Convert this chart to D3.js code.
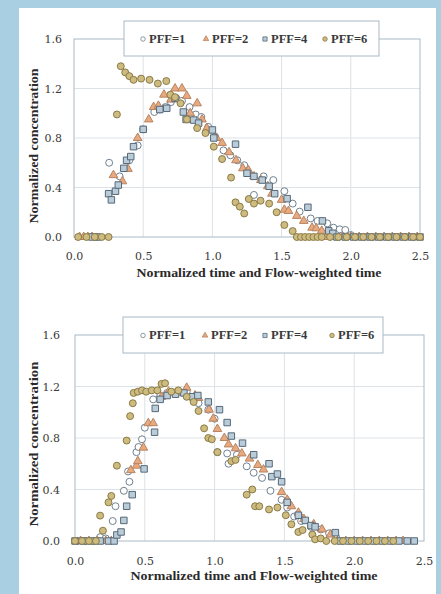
<!DOCTYPE html>
<html>
<head>
<meta charset="utf-8">
<script src="https://cdn.jsdelivr.net/npm/d3@7"></script>
<style>
  html, body { margin: 0; padding: 0; background: #a8cfe2; }
  svg { display: block; }
</style>
</head>
<body>
<svg id="chart" width="441" height="594"></svg>
<script>
const seriesNames = ['PFF=1', 'PFF=2', 'PFF=4', 'PFF=6'];
const xTicks = [0, 0.5, 1.0, 1.5, 2.0, 2.5];
const yTicks = [0, 0.4, 0.8, 1.2, 1.6];

// top panel: [time, concentration]
const topPFF1 = [[0.16,0],[0.254,0.60],[0.33,0.49],[0.40,0.62],[0.46,0.74],[0.50,0.87],[0.58,1.01],
  [0.62,1.03],[0.66,1.05],[0.70,1.09],[0.74,1.12],[0.78,1.10],[0.835,1.05],[0.88,0.99],[0.92,0.97],
  [0.97,0.89],[1.02,0.81],[1.08,0.70],[1.13,0.66],[1.18,0.62],[1.23,0.58],[1.30,0.34],[1.37,0.49],
  [1.44,0.46],[1.52,0.37],[1.58,0.27],[1.63,0.205],[1.71,0.15],[1.76,0.13],[1.83,0.11],[1.875,0.075],
  [1.92,0.062],[1.96,0.057],[2.0,0.016],[2.04,0],[2.1,0],[2.16,0],[2.22,0],[2.28,0],[2.34,0],[2.4,0],[2.46,0]];
const topPFF2 = [[0.04,0],[0.07,0],[0.10,0],[0.13,0],[0.285,0.50],[0.35,0.45],[0.39,0.55],[0.46,0.80],
  [0.54,0.95],[0.575,1.05],[0.61,1.06],[0.65,1.15],[0.70,1.11],[0.73,1.20],[0.78,1.20],[0.815,1.14],
  [0.84,1.0],[0.89,1.08],[0.925,0.95],[0.96,0.88],[1.03,0.80],[1.07,0.76],[1.12,0.685],[1.17,0.62],
  [1.22,0.555],[1.26,0.54],[1.30,0.49],[1.35,0.46],[1.40,0.41],[1.43,0.35],[1.50,0.30],[1.52,0.22],
  [1.55,0.21],[1.61,0.17],[1.66,0.13],[1.72,0.075],[1.75,0.07],[1.79,0.05],[1.82,0],[1.88,0],[1.94,0],
  [2.0,0],[2.06,0],[2.12,0],[2.18,0],[2.24,0],[2.3,0],[2.36,0],[2.42,0],[2.48,0]];
const topPFF4 = [[0.13,0],[0.17,0],[0.25,0.35],[0.27,0.30],[0.30,0.37],[0.32,0.42],[0.36,0.555],
  [0.38,0.62],[0.41,0.65],[0.43,0.73],[0.50,0.87],[0.62,1.03],[0.67,1.04],[0.73,1.12],[0.79,1.01],
  [0.81,0.95],[0.865,0.945],[0.90,0.92],[1.0,0.865],[1.01,0.80],[1.167,0.75],[1.25,0.515],[1.30,0.49],
  [1.36,0.46],[1.41,0.41],[1.45,0.35],[1.54,0.31],[1.69,0.24],[1.795,0.13],[1.84,0.05],[1.87,0.03],
  [1.90,0],[1.96,0],[2.02,0],[2.08,0],[2.14,0],[2.2,0],[2.26,0],[2.32,0],[2.38,0],[2.44,0],[2.5,0]];
const topPFF6 = [[0.03,0],[0.09,0],[0.15,0],[0.2,0],[0.25,0],[0.31,0.99],[0.338,1.38],[0.37,1.33],
  [0.40,1.30],[0.43,1.27],[0.485,1.28],[0.546,1.27],[0.606,1.24],[0.667,1.26],[0.696,1.15],[0.73,1.13],
  [0.77,1.08],[0.816,0.95],[0.89,0.88],[0.95,0.84],[1.01,0.73],[1.07,0.63],[1.135,0.48],[1.167,0.28],
  [1.198,0.245],[1.23,0.19],[1.263,0.307],[1.30,0.27],[1.348,0.293],[1.41,0.27],[1.464,0.20],
  [1.52,0.097],[1.58,0.048],[1.61,0],[1.64,0],[1.67,0],[1.70,0],[1.73,0],[1.76,0],[1.79,0],[1.85,0],
  [1.91,0],[1.97,0],[2.03,0],[2.09,0],[2.15,0],[2.21,0],[2.27,0],[2.33,0],[2.39,0],[2.45,0],[2.5,0]];

// bottom panel: [flow-weighted time, concentration]
const botPFF1 = [[0.02,0],[0.08,0],[0.14,0],[0.18,0.03],[0.22,0.02],[0.27,0.155],[0.29,0.27],
  [0.35,0.39],[0.39,0.46],[0.38,0.54],[0.44,0.69],[0.455,0.73],[0.48,0.79],[0.50,0.88],[0.56,1.10],
  [0.61,1.13],[0.66,1.15],[0.72,1.15],[0.80,1.16],[0.885,1.07],[0.955,1.02],[1.0,0.95],[1.02,0.69],
  [1.10,0.60],[1.09,0.68],[1.16,0.67],[1.23,0.58],[1.28,0.53],[1.34,0.49],[1.40,0.39],[1.48,0.32],
  [1.52,0.26],[1.57,0.19],[1.62,0.155],[1.69,0.11],[1.76,0.09],[1.82,0.06],[1.87,0.03],[1.92,0],
  [1.98,0],[2.04,0],[2.1,0],[2.16,0],[2.22,0],[2.28,0]];
const botPFF2 = [[0.04,0],[0.1,0],[0.16,0],[0.22,0],[0.26,0],[0.40,0.55],[0.44,0.585],[0.45,0.62],
  [0.49,0.725],[0.525,0.915],[0.56,0.915],[0.62,1.12],[0.67,1.16],[0.72,1.15],[0.80,1.19],[0.86,1.13],
  [0.885,1.11],[0.96,1.02],[0.99,0.95],[1.02,0.87],[1.07,0.80],[1.10,0.75],[1.15,0.72],[1.195,0.68],
  [1.25,0.64],[1.31,0.59],[1.35,0.555],[1.48,0.38],[1.52,0.32],[1.55,0.27],[1.60,0.22],[1.64,0.17],
  [1.71,0.13],[1.77,0.09],[1.83,0.05],[1.88,0],[1.94,0],[2.0,0],[2.06,0],[2.12,0],[2.18,0],[2.24,0],
  [2.3,0],[2.35,0]];
const botPFF4 = [[0.0,0],[0.06,0],[0.12,0],[0.18,0],[0.24,0],[0.28,0],[0.30,0.047],[0.33,0.07],
  [0.35,0.16],[0.37,0.27],[0.41,0.36],[0.495,0.56],[0.57,0.845],[0.575,1.03],[0.61,1.10],[0.66,1.13],
  [0.72,1.14],[0.78,1.15],[0.84,1.12],[0.88,1.13],[0.955,1.08],[1.035,1.02],[1.09,0.92],[1.12,0.815],
  [1.20,0.76],[1.28,0.67],[1.39,0.60],[1.41,0.50],[1.45,0.52],[1.48,0.46],[1.52,0.30],[1.60,0.20],
  [1.65,0.16],[1.69,0.12],[1.72,0.11],[1.865,0.065],[1.90,0],[1.96,0],[2.02,0],[2.08,0],[2.14,0],
  [2.2,0],[2.26,0],[2.32,0],[2.38,0],[2.43,0]];
const botPFF6 = [[0.0,0],[0.05,0],[0.1,0],[0.15,0],[0.18,0.197],[0.20,0.08],[0.24,0.30],[0.26,0.35],
  [0.30,0.585],[0.37,0.78],[0.395,0.97],[0.414,1.07],[0.42,1.15],[0.45,1.16],[0.48,1.17],[0.51,1.16],
  [0.55,1.17],[0.59,1.17],[0.62,1.22],[0.645,1.225],[0.69,1.16],[0.74,1.17],[0.80,1.12],[0.85,1.08],
  [0.885,1.01],[0.925,0.875],[0.955,0.80],[0.98,0.79],[1.02,0.69],[1.12,0.62],[1.15,0.63],[1.23,0.36],
  [1.27,0.40],[1.29,0.27],[1.32,0.27],[1.39,0.245],[1.45,0.26],[1.51,0.20],[1.55,0.13],[1.60,0.07],
  [1.63,0.085],[1.70,0.05],[1.72,0.013],[1.76,0.02],[1.80,0],[1.86,0],[1.92,0],[1.98,0],[2.04,0],
  [2.1,0],[2.16,0],[2.22,0],[2.28,0]];

const MarkerStyles = [
  { type: d3.symbolCircle, size: 38, fill: '#ffffff', stroke: '#6f8191' },
  { type: d3.symbolTriangle, size: 32, fill: '#e8a97e', stroke: '#b78462' },
  { type: d3.symbolSquare, size: 42, fill: '#b9ccd8', stroke: '#56697a' },
  { type: d3.symbolCircle, size: 38, fill: '#cdbb80', stroke: '#8a7a45' }
];
const GridColor = '#dde2e6';
const BorderColor = '#a9bac6';
const TextColor = '#3a3a3a';
const TickFont = '"DejaVu Serif", "Liberation Serif", serif';
const TitleFont = '"Liberation Serif", "DejaVu Serif", serif';

const panels = [
  {
    series: [topPFF1, topPFF2, topPFF4, topPFF6],
    left: 74, right: 420, top: 39, bottom: 237,
    legend: { x: 124, y: 21, w: 255, h: 35, marks: [19, 82, 141, 201] },
    yLabelX: 62, xLabelY: 258,
    xTitle: { x: 259, y: 272, len: 245 },
    yTitle: { x: 33, y: 146, len: 155 }
  },
  {
    series: [botPFF1, botPFF2, botPFF4, botPFF6],
    left: 75, right: 424, top: 335, bottom: 541,
    legend: { x: 123, y: 317, w: 260, h: 36, marks: [20, 82, 142, 209] },
    yLabelX: 60, xLabelY: 563,
    xTitle: { x: 254, y: 575, len: 247 },
    yTitle: { x: 33, y: 444, len: 165 }
  }
];

const svg = d3.select('#chart');

svg.append('rect')
  .attr('x', 0).attr('y', 0)
  .attr('width', 441).attr('height', 594)
  .attr('fill', '#a8cfe2');
svg.append('rect')
  .attr('x', 19).attr('y', 8)
  .attr('width', 417).attr('height', 590)
  .attr('fill', '#ffffff');

const drawPanel = panel => {
  const x = d3.scaleLinear().domain([0, 2.5]).range([panel.left, panel.right]);
  const y = d3.scaleLinear().domain([0, 1.6]).range([panel.bottom, panel.top]);
  const g = svg.append('g');

  // gridlines
  g.append('g')
    .selectAll('line')
    .data(xTicks.slice(1, -1))
    .enter().append('line')
      .attr('x1', d => x(d)).attr('x2', d => x(d))
      .attr('y1', panel.top).attr('y2', panel.bottom)
      .attr('stroke', GridColor);
  g.append('g')
    .selectAll('line')
    .data(yTicks.slice(1, -1))
    .enter().append('line')
      .attr('x1', panel.left).attr('x2', panel.right)
      .attr('y1', d => y(d)).attr('y2', d => y(d))
      .attr('stroke', GridColor);

  g.append('rect')
    .attr('x', panel.left).attr('y', panel.top)
    .attr('width', panel.right - panel.left)
    .attr('height', panel.bottom - panel.top)
    .attr('fill', 'none')
    .attr('stroke', BorderColor);

  // axes (labels only)
  const xAxis = g.append('g')
    .attr('transform', `translate(0,${panel.xLabelY - 6})`)
    .call(d3.axisBottom(x).tickValues(xTicks).tickSize(0).tickPadding(0)
      .tickFormat(d3.format('.1f')));
  const yAxis = g.append('g')
    .attr('transform', `translate(${panel.yLabelX},0)`)
    .call(d3.axisLeft(y).tickValues(yTicks).tickSize(0).tickPadding(0)
      .tickFormat(d3.format('.1f')));
  [xAxis, yAxis].forEach(axis => {
    axis.select('.domain').remove();
    axis.selectAll('text')
      .attr('fill', TextColor)
      .style('font-family', TickFont)
      .style('font-size', '11px');
  });
  yAxis.selectAll('text').attr('dy', '0.36em');

  // axis titles
  g.append('text')
    .attr('x', panel.xTitle.x).attr('y', panel.xTitle.y)
    .attr('text-anchor', 'middle')
    .attr('dominant-baseline', 'central')
    .attr('textLength', panel.xTitle.len)
    .attr('lengthAdjust', 'spacingAndGlyphs')
    .attr('fill', '#2a2a2a')
    .style('font-family', TitleFont)
    .style('font-weight', 'bold')
    .style('font-size', '13px')
    .text('Normalized time and Flow-weighted time');
  g.append('text')
    .attr('transform', `translate(${panel.yTitle.x},${panel.yTitle.y}) rotate(-90)`)
    .attr('text-anchor', 'middle')
    .attr('dominant-baseline', 'central')
    .attr('textLength', panel.yTitle.len)
    .attr('lengthAdjust', 'spacingAndGlyphs')
    .attr('fill', '#2a2a2a')
    .style('font-family', TitleFont)
    .style('font-weight', 'bold')
    .style('font-size', '13.5px')
    .text('Normalized concentration');

  // data points
  panel.series.forEach((points, i) => {
    const style = MarkerStyles[i];
    const symbol = d3.symbol().type(style.type).size(style.size);
    g.append('g')
      .selectAll('path')
      .data(points)
      .enter().append('path')
        .attr('transform', d => `translate(${x(d[0])},${y(d[1])})`)
        .attr('d', symbol)
        .attr('fill', style.fill)
        .attr('stroke', style.stroke)
        .attr('stroke-width', 1);
  });

  // legend
  const lg = panel.legend;
  const legend = g.append('g')
    .attr('transform', `translate(${lg.x},${lg.y})`);
  legend.append('rect')
    .attr('width', lg.w).attr('height', lg.h)
    .attr('fill', '#ffffff')
    .attr('stroke', BorderColor);
  seriesNames.forEach((name, i) => {
    const style = MarkerStyles[i];
    legend.append('path')
      .attr('transform', `translate(${lg.marks[i]},${lg.h / 2 + 0.5})`)
      .attr('d', d3.symbol().type(style.type).size(style.size * 0.42))
      .attr('fill', style.fill)
      .attr('stroke', style.stroke)
      .attr('stroke-width', 0.8);
    legend.append('text')
      .attr('x', lg.marks[i] + 6)
      .attr('y', lg.h / 2)
      .attr('dominant-baseline', 'central')
      .attr('fill', TextColor)
      .style('font-family', TitleFont)
      .style('font-weight', 'bold')
      .style('font-size', '12.5px')
      .text(name);
  });
};

panels.forEach(drawPanel);
</script>
</body>
</html>
